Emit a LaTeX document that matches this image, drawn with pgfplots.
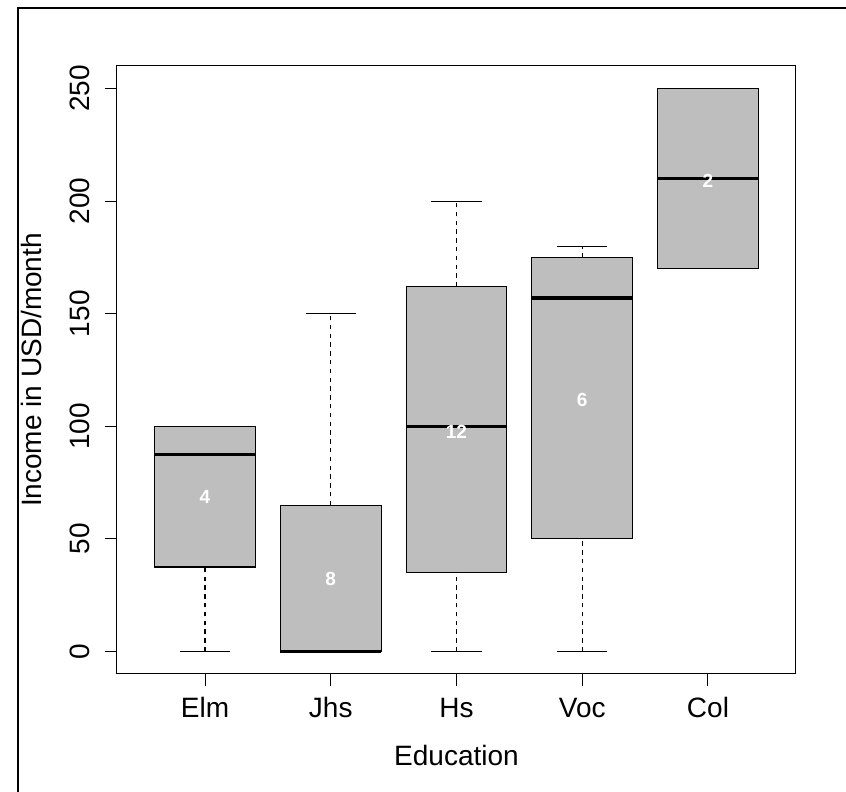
\documentclass[border=0pt]{standalone}
\usepackage{fontspec}
\setmainfont{Liberation Sans}
\usepackage{pgfplots}
\pgfplotsset{compat=1.18}
\usepgfplotslibrary{statistics}
\definecolor{boxgray}{HTML}{BEBEBE}

\begin{document}
\begin{tikzpicture}
\useasboundingbox (-58.5pt,-59pt) rectangle (364.5pt,337pt);
\draw[line width=0.8pt] (-49.5pt,-80pt) -- (-49.5pt,333pt) -- (380pt,333pt);
\begin{axis}[
  at={(0,0)}, anchor=south west, scale only axis,
  width=339.5pt, height=304pt,
  xmin=0.3, xmax=5.7, ymin=-10, ymax=260,
  xtick={1,2,3,4,5}, xticklabels={Elm,Jhs,Hs,Voc,Col},
  ytick={0,50,100,150,200,250},
  tick pos=left, tick align=outside, major tick length=6pt,
  every tick/.style={black, line width=0.5pt},
  axis line style={line width=0.5pt},
  /pgf/number format/assume math mode=true,
  tick label style={font=\fontsize{14}{16}\selectfont, inner sep=0pt},
  xticklabel style={anchor=base, yshift=-15.5pt},
  yticklabel style={xshift=-7.5pt, rotate=90, anchor=base},
  label style={font=\fontsize{14}{16}\selectfont, inner sep=0pt},
  xlabel={Education},
  ylabel={Income in USD/month},
  xlabel style={at={([yshift=-45.5pt]axis description cs:0.5,0)}, anchor=base},
  ylabel style={at={([xshift=-37.5pt]axis description cs:0,0.5)}, anchor=base},
  boxplot/draw direction=y,
  boxplot/box extend=0.8,
  boxplot/whisker extend=0.4,
  boxplot/every median/.style={line width=1.65pt},
  boxplot/draw/lower whisker/.code={
    \draw[/pgfplots/boxplot/every whisker/.try, dash pattern=on 2.2pt off 2.2pt]
      (boxplot box cs:\pgfplotsboxplotvalue{lower whisker},0.5) --
      (boxplot box cs:\pgfplotsboxplotvalue{lower quartile},0.5);
    \draw[/pgfplots/boxplot/every whisker/.try]
      (boxplot whisker cs:\pgfplotsboxplotvalue{lower whisker},0) --
      (boxplot whisker cs:\pgfplotsboxplotvalue{lower whisker},1);
  },
  boxplot/draw/upper whisker/.code={
    \draw[/pgfplots/boxplot/every whisker/.try, dash pattern=on 2.2pt off 2.2pt]
      (boxplot box cs:\pgfplotsboxplotvalue{upper quartile},0.5) --
      (boxplot box cs:\pgfplotsboxplotvalue{upper whisker},0.5);
    \draw[/pgfplots/boxplot/every whisker/.try]
      (boxplot whisker cs:\pgfplotsboxplotvalue{upper whisker},0) --
      (boxplot whisker cs:\pgfplotsboxplotvalue{upper whisker},1);
  },
]
% Elm
\addplot[black, fill=boxgray, line width=0.55pt, boxplot prepared={draw position=1,
  lower whisker=0, lower quartile=37.5, median=87.5, upper quartile=100, upper whisker=100}]
  coordinates {};
% Jhs
\addplot[black, fill=boxgray, line width=0.55pt, boxplot prepared={draw position=2,
  lower whisker=0, lower quartile=0, median=0, upper quartile=65, upper whisker=150}]
  coordinates {};
% Hs
\addplot[black, fill=boxgray, line width=0.55pt, boxplot prepared={draw position=3,
  lower whisker=0, lower quartile=35, median=100, upper quartile=162, upper whisker=200}]
  coordinates {};
% Voc
\addplot[black, fill=boxgray, line width=0.55pt, boxplot prepared={draw position=4,
  lower whisker=0, lower quartile=50, median=157, upper quartile=175, upper whisker=180}]
  coordinates {};
% Col
\addplot[black, fill=boxgray, line width=0.55pt, boxplot prepared={draw position=5,
  lower whisker=170, lower quartile=170, median=210, upper quartile=250, upper whisker=250}]
  coordinates {};

\begin{scope}[every node/.style={text=white, font=\bfseries\fontsize{9.5}{11}\selectfont, inner sep=0pt}]
\node at (axis cs:1,68.5) {4};
\node at (axis cs:2,32.4) {8};
\node at (axis cs:3,97.5) {12};
\node at (axis cs:4,111.7) {6};
\node at (axis cs:5,208.8) {2};
\end{scope}
\end{axis}
\end{tikzpicture}
\end{document}
